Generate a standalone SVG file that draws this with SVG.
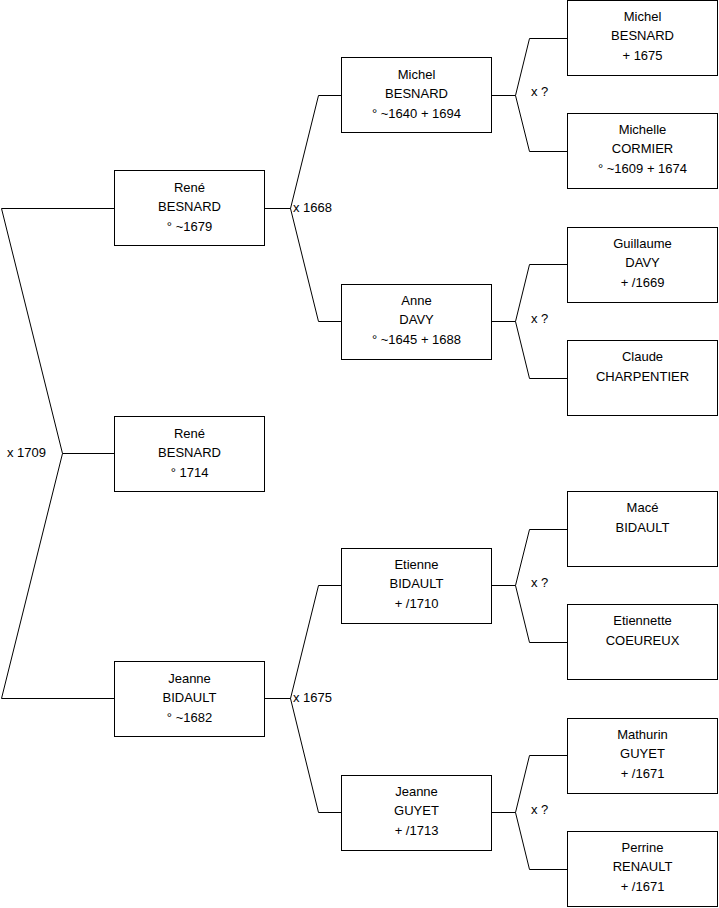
<svg xmlns="http://www.w3.org/2000/svg" width="719" height="908" viewBox="0 0 719 908">
<style>
.box{fill:#fff;stroke:#000;stroke-width:1}
.t{font-family:"Liberation Sans",Arial,sans-serif;font-size:13px;fill:#000;text-anchor:middle}
.l{font-family:"Liberation Sans",Arial,sans-serif;font-size:13px;fill:#000}
.c{fill:none;stroke:#000;stroke-width:1}
</style>
<rect width="719" height="908" fill="#fff"/>
<g id="connectors">
<path class="c" d="M114,453.5H62.5L1.5,208.5H114M62.5,453.5L1.5,698.5H114"/>
<path class="c" d="M265,208.5H290.5L318.5,95.5H341M290.5,208.5L318.5,321.5H341"/>
<path class="c" d="M265,698.5H290.5L318.5,585.5H341M290.5,698.5L318.5,812.5H341"/>
<path class="c" d="M492,95.5H515.5L529.5,38.5H567M515.5,95.5L529.5,151.5H567"/>
<path class="c" d="M492,321.5H515.5L529.5,264.5H567M515.5,321.5L529.5,378.5H567"/>
<path class="c" d="M492,585.5H515.5L529.5,529.5H567M515.5,585.5L529.5,642.5H567"/>
<path class="c" d="M492,812.5H515.5L529.5,755.5H567M515.5,812.5L529.5,869.5H567"/>
<text class="l" x="7" y="457">x 1709</text>
<text class="l" x="293" y="212">x 1668</text>
<text class="l" x="293" y="702">x 1675</text>
<text class="l" x="531" y="96">x ?</text>
<text class="l" x="531" y="323">x ?</text>
<text class="l" x="531" y="587">x ?</text>
<text class="l" x="531" y="814">x ?</text>
</g>
<g id="n1"><rect class="box" x="114.5" y="416.5" width="150" height="75"/><text class="t" x="189.5" y="438">René</text><text class="t" x="189.5" y="457">BESNARD</text><text class="t" x="189.5" y="477">° 1714</text></g>
<g id="n2"><rect class="box" x="114.5" y="170.5" width="150" height="75"/><text class="t" x="189.5" y="192">René</text><text class="t" x="189.5" y="211">BESNARD</text><text class="t" x="189.5" y="231">° ~1679</text></g>
<g id="n3"><rect class="box" x="114.5" y="661.5" width="150" height="75"/><text class="t" x="189.5" y="683">Jeanne</text><text class="t" x="189.5" y="702">BIDAULT</text><text class="t" x="189.5" y="722">° ~1682</text></g>
<g id="n4"><rect class="box" x="341.5" y="57.5" width="150" height="75"/><text class="t" x="416.5" y="79">Michel</text><text class="t" x="416.5" y="98">BESNARD</text><text class="t" x="416.5" y="118">° ~1640 + 1694</text></g>
<g id="n5"><rect class="box" x="341.5" y="284.5" width="150" height="75"/><text class="t" x="416.5" y="305">Anne</text><text class="t" x="416.5" y="324">DAVY</text><text class="t" x="416.5" y="344">° ~1645 + 1688</text></g>
<g id="n6"><rect class="box" x="341.5" y="548.5" width="150" height="75"/><text class="t" x="416.5" y="569">Etienne</text><text class="t" x="416.5" y="588">BIDAULT</text><text class="t" x="416.5" y="608">+ /1710</text></g>
<g id="n7"><rect class="box" x="341.5" y="775.5" width="150" height="75"/><text class="t" x="416.5" y="796">Jeanne</text><text class="t" x="416.5" y="815">GUYET</text><text class="t" x="416.5" y="835">+ /1713</text></g>
<g id="n8"><rect class="box" x="567.5" y="0.5" width="150" height="75"/><text class="t" x="642.5" y="21">Michel</text><text class="t" x="642.5" y="40">BESNARD</text><text class="t" x="642.5" y="60">+ 1675</text></g>
<g id="n9"><rect class="box" x="567.5" y="113.5" width="150" height="75"/><text class="t" x="642.5" y="134">Michelle</text><text class="t" x="642.5" y="153">CORMIER</text><text class="t" x="642.5" y="173">° ~1609 + 1674</text></g>
<g id="n10"><rect class="box" x="567.5" y="227.5" width="150" height="75"/><text class="t" x="642.5" y="248">Guillaume</text><text class="t" x="642.5" y="267">DAVY</text><text class="t" x="642.5" y="287">+ /1669</text></g>
<g id="n11"><rect class="box" x="567.5" y="340.5" width="150" height="75"/><text class="t" x="642.5" y="361">Claude</text><text class="t" x="642.5" y="381">CHARPENTIER</text></g>
<g id="n12"><rect class="box" x="567.5" y="491.5" width="150" height="75"/><text class="t" x="642.5" y="512">Macé</text><text class="t" x="642.5" y="532">BIDAULT</text></g>
<g id="n13"><rect class="box" x="567.5" y="604.5" width="150" height="75"/><text class="t" x="642.5" y="625">Etiennette</text><text class="t" x="642.5" y="645">COEUREUX</text></g>
<g id="n14"><rect class="box" x="567.5" y="718.5" width="150" height="75"/><text class="t" x="642.5" y="739">Mathurin</text><text class="t" x="642.5" y="758">GUYET</text><text class="t" x="642.5" y="778">+ /1671</text></g>
<g id="n15"><rect class="box" x="567.5" y="831.5" width="150" height="75"/><text class="t" x="642.5" y="852">Perrine</text><text class="t" x="642.5" y="871">RENAULT</text><text class="t" x="642.5" y="891">+ /1671</text></g>
</svg>
